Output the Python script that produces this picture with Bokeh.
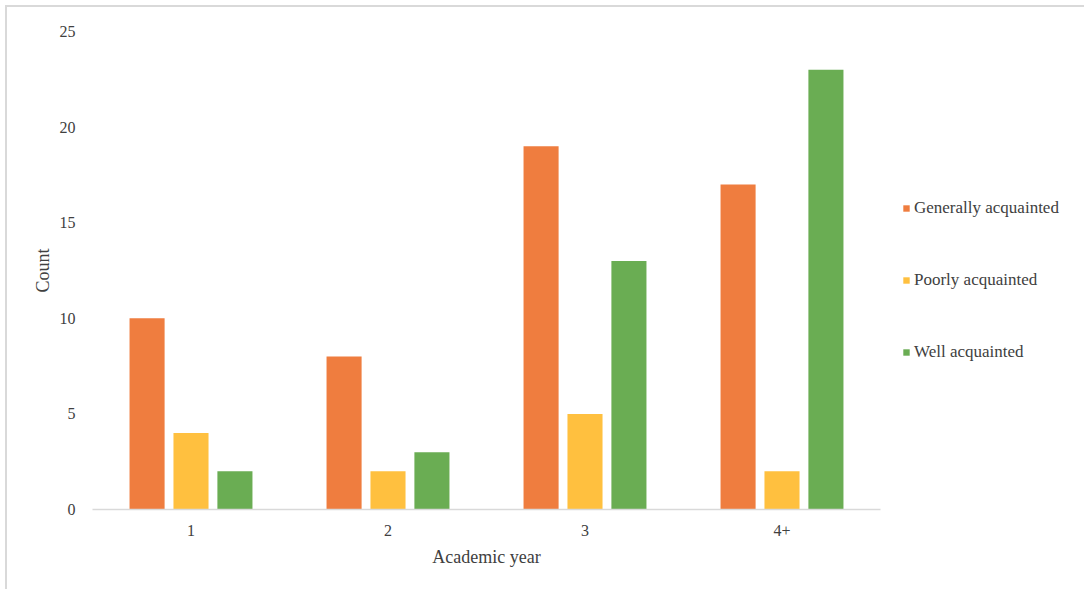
from bokeh.plotting import figure
from bokeh.models import ColumnDataSource, FactorRange, Legend, LegendItem, Range1d
from bokeh.transform import dodge
from bokeh.embed import file_html
from bokeh.resources import INLINE

years = ["1", "2", "3", "4+"]
generally = [10, 8, 19, 17]
poorly = [4, 2, 5, 2]
well = [2, 3, 13, 23]
series_names = ["Generally acquainted", "Poorly acquainted", "Well acquainted"]
colors = ["#EF7D3F", "#FFC03F", "#6AAD53"]

src = ColumnDataSource(dict(year=years, g=generally, p=poorly, w=well))

FONT = "Liberation Serif"

p = figure(frame_width=788, frame_height=478, x_range=FactorRange(*years), y_range=Range1d(0, 25),
           output_backend="svg", toolbar_location=None,
           min_border_left=85, min_border_right=0, min_border_top=24, min_border_bottom=80)
p.styles = {"margin-left": "5px", "margin-top": "5px",
            "border-left": "2px solid #d9d9d9", "border-top": "2px solid #d9d9d9"}
p.outline_line_color = None
p.grid.grid_line_color = None
p.x_range.range_padding = 0
p.x_range.group_padding = 0

rs = []
for col, off, c in zip(["g", "p", "w"], [-0.223, 0.0, 0.223], colors):
    r = p.vbar(x=dodge("year", off, range=p.x_range), top=col, width=0.178, source=src,
               fill_color=c, line_color=None)
    rs.append(r)

p.yaxis.axis_line_color = None
p.yaxis.major_tick_line_color = None
p.yaxis.minor_tick_line_color = None
p.yaxis.ticker = [0, 5, 10, 15, 20, 25]
p.yaxis.major_label_standoff = 11
p.yaxis.axis_label = "Count"
p.yaxis.axis_label_standoff = 4

p.xaxis.axis_line_color = "#D9D9D9"
p.xaxis.axis_line_width = 1.5
p.xaxis.major_tick_line_color = None
p.xaxis.minor_tick_line_color = None
p.xaxis.major_label_standoff = 9
p.xaxis.axis_label = "Academic year"
p.xaxis.axis_label_standoff = 8

for ax in (p.xaxis, p.yaxis):
    ax.major_label_text_font = FONT
    ax.major_label_text_font_size = "16px"
    ax.major_label_text_color = "#404040"
    ax.axis_label_text_font = FONT
    ax.axis_label_text_font_size = "18px"
    ax.axis_label_text_font_style = "normal"
    ax.axis_label_text_color = "#404040"

legend = Legend(items=[LegendItem(label=n, renderers=[r]) for n, r in zip(series_names, rs)],
                location=(22, 147), glyph_width=8, glyph_height=8, spacing=52,
                padding=0, margin=0, label_standoff=4, border_line_color=None,
                background_fill_alpha=0,
                label_text_font=FONT, label_text_font_size="17px", label_text_color="#404040")
p.add_layout(legend, "right")

open("out.html", "w").write(file_html(p, INLINE))
